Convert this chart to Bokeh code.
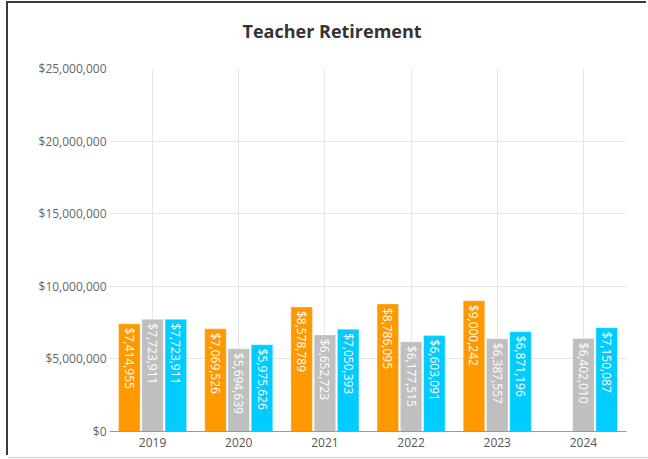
import math
from bokeh.plotting import figure
from bokeh.models import ColumnDataSource, FactorRange, NumeralTickFormatter, FixedTicker, Range1d
from bokeh.transform import dodge
from bokeh.core.properties import value
from bokeh.embed import file_html
from bokeh.resources import INLINE

years = ["2019", "2020", "2021", "2022", "2023", "2024"]
series_orange = [7414955, 7069526, 8578789, 8786095, 9000242, None]
series_gray = [7723911, 5694639, 6652723, 6177515, 6387557, 6402010]
series_cyan = [7723911, 5975626, 7050393, 6603091, 6871196, 7150087]
y_ticks = [0, 5000000, 10000000, 15000000, 20000000, 25000000]

colors = ["#FF9900", "#BFBFBF", "#00CCFF"]
offsets = [-0.27, 0.0, 0.27]
FONT = "Open Sans"

p = figure(
    x_range=FactorRange(*years), y_range=Range1d(0, 25000000),
    width=640, height=454, output_backend="svg", toolbar_location=None,
    min_border_left=101, min_border_right=22, min_border_top=65, min_border_bottom=26,
    title="Teacher Retirement",
)
p.styles = {"position": "relative", "left": "8px", "top": "3px",
            "box-shadow": "-2px -2px 0 0 #3a3a3a, 0 1px 0 0 #d0d0d0"}

p.title.text_font = FONT
p.title.text_font_size = "18px"
p.title.text_font_style = "bold"
p.title.text_color = "#333333"
p.title.align = "left"
p.title.offset = 133
p.title.standoff = 0
p.title.vertical_align = "bottom"
p.title.padding = dict(left=0, right=0, top=0, bottom=26)

p.outline_line_color = None
p.background_fill_color = "white"
p.border_fill_color = "white"

p.xgrid.grid_line_color = "#e6e6e6"
p.ygrid.grid_line_color = "#e6e6e6"

p.yaxis.ticker = FixedTicker(ticks=y_ticks)
p.yaxis.formatter = NumeralTickFormatter(format="$0,0")
p.yaxis.axis_line_color = None
p.yaxis.major_tick_line_color = None
p.yaxis.minor_tick_line_color = None
p.yaxis.major_tick_out = 0
p.yaxis.major_tick_in = 0
p.yaxis.major_label_standoff = 3
p.yaxis.major_label_text_font = FONT
p.yaxis.major_label_text_font_size = "12px"
p.yaxis.major_label_text_color = "#666666"

p.xaxis.axis_line_color = "#9a9a9a"
p.xaxis.axis_line_width = 1
p.xaxis.major_tick_line_color = None
p.xaxis.minor_tick_line_color = None
p.xaxis.major_tick_out = 0
p.xaxis.major_tick_in = 0
p.xaxis.major_label_standoff = 6
p.xaxis.major_label_text_font = FONT
p.xaxis.major_label_text_font_size = "12px"
p.xaxis.major_label_text_color = "#555555"

for vals, col, off in zip([series_orange, series_gray, series_cyan], colors, offsets):
    src = ColumnDataSource(dict(
        x=years, y=[float("nan") if v is None else v for v in vals]))
    p.vbar(x=dodge("x", off, range=p.x_range), top="y", width=0.25, source=src,
           fill_color=col, line_color="white", line_alpha=0.35, line_width=1)
    lx = [yr for yr, v in zip(years, vals) if v is not None]
    ly = [v for v in vals if v is not None]
    lt = [f"${v:,.0f}" for v in ly]
    lsrc = ColumnDataSource(dict(x=lx, y=ly, t=lt))
    p.text(x=dodge("x", off, range=p.x_range), y="y", text="t", source=lsrc,
           angle=-math.pi / 2, text_align="left", text_baseline="middle",
           y_offset=4, text_color="white", text_font=value(FONT),
           text_font_size="12px")

open("out.html", "w").write(file_html(p, INLINE))
